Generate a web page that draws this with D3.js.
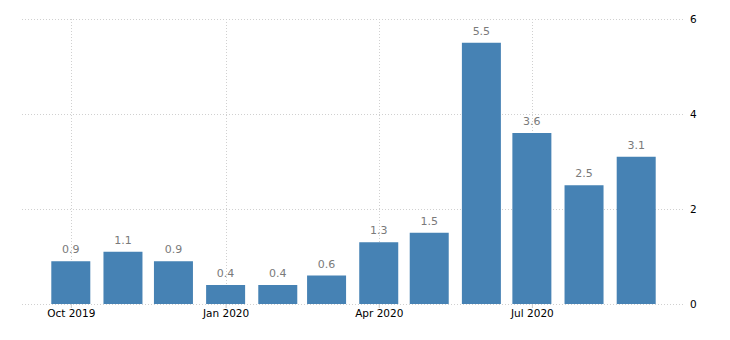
<!DOCTYPE html>
<html>
<head>
<meta charset="utf-8">
<script src="https://cdn.jsdelivr.net/npm/d3@7"></script>
<style>
  html, body { margin: 0; padding: 0; background: #fff; }
  svg { display: block; }
  text { font-family: "DejaVu Sans", "Liberation Sans", Arial, sans-serif; }
</style>
</head>
<body>
<svg id="chart" width="730" height="340"></svg>
<script>
const months = ["2019-10", "2019-11", "2019-12", "2020-01", "2020-02", "2020-03",
                "2020-04", "2020-05", "2020-06", "2020-07", "2020-08", "2020-09"];
const values = [0.9, 1.1, 0.9, 0.4, 0.4, 0.6, 1.3, 1.5, 5.5, 3.6, 2.5, 3.1];
const yTicks = [0, 2, 4, 6];
const xTickMonths = ["2019-10", "2020-01", "2020-04", "2020-07"];
const xTickLabels = ["Oct 2019", "Jan 2020", "Apr 2020", "Jul 2020"];

const parse = d3.timeParse("%Y-%m");
const dates = months.map(parse);
const data = dates.map((d, i) => ({ date: d, value: values[i] }));

const svg = d3.select("#chart");
const mLeft = 22, mRight = 685, mTop = 19, mBottom = 304;
const fontFam = "'DejaVu Sans', 'Liberation Sans', Arial, sans-serif";

const x = d3.scaleTime()
  .domain([d3.timeDay.offset(dates[0], -29), d3.timeDay.offset(dates[dates.length - 1], 29.5)])
  .range([mLeft, mRight]);
const y = d3.scaleLinear().domain([0, 6]).range([mBottom, mTop]);

const grid = "#d0d0d0";

// horizontal grid lines
svg.append("g").selectAll("line").data(yTicks).join("line")
  .attr("x1", mLeft).attr("x2", mRight)
  .attr("y1", d => Math.round(y(d)) + 0.5).attr("y2", d => Math.round(y(d)) + 0.5)
  .attr("stroke", grid).attr("stroke-dasharray", "1,2");

// vertical grid lines
const xTickDates = xTickMonths.map(parse);
svg.append("g").selectAll("line").data(xTickDates).join("line")
  .attr("x1", d => Math.round(x(d)) + 0.5).attr("x2", d => Math.round(x(d)) + 0.5)
  .attr("y1", mTop).attr("y2", mBottom)
  .attr("stroke", grid).attr("stroke-dasharray", "1,2");

// bars
const barW = 39;
svg.append("g").selectAll("rect").data(data).join("rect")
  .attr("x", d => x(d.date) - barW / 2)
  .attr("width", barW)
  .attr("y", d => y(d.value))
  .attr("height", d => y(0) - y(d.value))
  .attr("fill", "#4682b4");

// value labels
svg.append("g").selectAll("text").data(data).join("text")
  .attr("x", d => x(d.date))
  .attr("y", d => y(d.value) - 8)
  .attr("text-anchor", "middle")
  .attr("font-size", "11px")
  .attr("font-family", fontFam)
  .attr("fill", "#7a7a7a")
  .text(d => d3.format(".1f")(d.value));

// x axis
const xAxis = d3.axisBottom(x)
  .tickValues(xTickDates)
  .tickFormat((d, i) => xTickLabels[i])
  .tickSize(4)
  .tickSizeOuter(0);
const gx = svg.append("g").attr("transform", `translate(0,${mBottom})`).call(xAxis);
gx.select(".domain").remove();
gx.selectAll(".tick line").attr("stroke", "#c8c8c8");
gx.selectAll(".tick text").attr("font-size", "10.5px").attr("fill", "#000")
  .attr("font-family", fontFam)
  .attr("dy", "0.6em");

// y axis on right
const yAxis = d3.axisRight(y).tickValues(yTicks).tickFormat(d3.format("d")).tickSize(0).tickPadding(5);
const gy = svg.append("g").attr("transform", `translate(${mRight},0)`).call(yAxis);
gy.select(".domain").remove();
gy.selectAll(".tick text").attr("font-size", "10.5px").attr("fill", "#000")
  .attr("font-family", fontFam);
</script>
</body>
</html>
